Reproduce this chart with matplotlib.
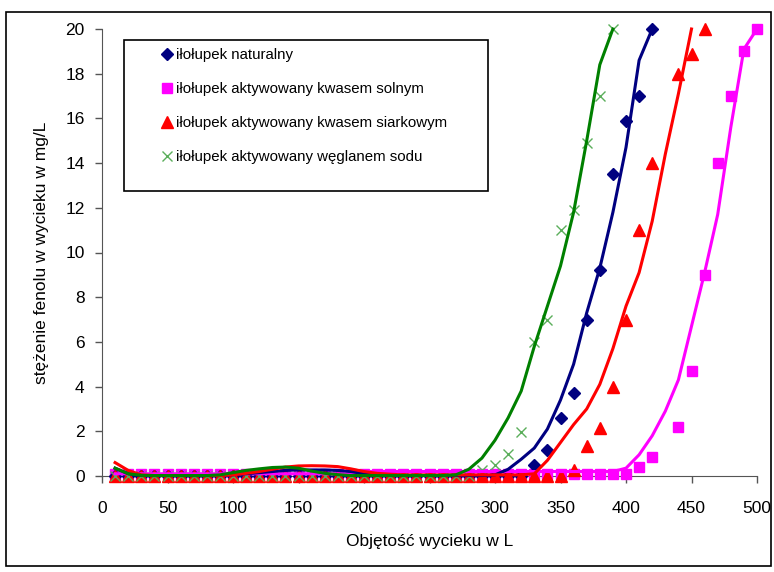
import numpy as np
import matplotlib.pyplot as plt
from matplotlib.patches import Rectangle
from matplotlib.lines import Line2D

plt.rcParams['font.family'] = ['Liberation Sans', 'DejaVu Sans']

nan = np.nan

# measured points (every 10 L)
x_pts = np.arange(10, 510, 10)

natural = [0.0] * 32 + [0.5, 1.15, 2.6, 3.7, 7.0, 9.2, 13.5, 15.9, 17.0, 20.0] + [nan] * 8
hcl = [0.08] * 40 + [0.39, 0.87, nan, 2.18, 4.7, 9.0, 14.0, 17.0, 19.0, 20.0]
h2so4 = [0.0] * 35 + [0.27, 1.35, 2.15, 4.0, 7.0, 11.0, 14.0, nan, 18.0, 18.9, 20.0] + [nan] * 4
na2co3 = [0.0] * 28 + [0.27, 0.5, 1.0, 1.95, 6.0, 7.0, 11.0, 11.9, 14.9, 17.0, 20.0] + [nan] * 11

# fitted curves (same x grid)
fit_natural = [0.35, 0.1, 0.02, 0.02, 0.02, 0.02, 0.02, 0.02, 0.02, 0.05,
               0.1, 0.15, 0.2, 0.25, 0.27, 0.27, 0.27, 0.25, 0.2, 0.1,
               0.05, 0.02, 0.02, 0.02, 0.02, 0.02, 0.02, 0.02, 0.02, 0.05,
               0.3, 0.75, 1.25, 2.1, 3.4, 5.0, 7.3, 9.3, 11.8, 14.7,
               18.6, 20.0] + [nan] * 8
fit_hcl = [0.1] * 19 + [0.2] * 20 + [0.35, 0.95, 1.8, 2.9, 4.3, 6.7, 9.1, 11.7, 15.6, 19.1, 20.0]
fit_h2so4 = [0.6, 0.25, 0.05, 0.02, 0.02, 0.02, 0.02, 0.02, 0.02, 0.05,
             0.12, 0.2, 0.3, 0.4, 0.45, 0.46, 0.45, 0.42, 0.32, 0.2,
             0.12, 0.08, 0.05, 0.05, 0.05, 0.05, 0.05, 0.05, 0.05, 0.05,
             0.05, 0.05, 0.1, 0.7, 1.5, 2.3, 3.0, 4.1, 5.7, 7.6,
             9.1, 11.4, 14.4, 17.1, 20.0] + [nan] * 5
fit_na2co3 = [0.35, 0.1, 0.03, 0.02, 0.02, 0.02, 0.02, 0.02, 0.05, 0.15,
              0.25, 0.32, 0.38, 0.4, 0.35, 0.22, 0.12, 0.06, 0.02, 0.02,
              0.02, 0.02, 0.02, 0.02, 0.02, 0.02, 0.05, 0.3, 0.8, 1.6,
              2.6, 3.8, 5.8, 7.6, 9.4, 11.8, 15.0, 18.4, 20.0] + [nan] * 11

labels = ['iłołupek naturalny',
          'iłołupek aktywowany kwasem solnym',
          'iłołupek aktywowany kwasem siarkowym',
          'iłołupek aktywowany węglanem sodu']

navy = '#000080'
magenta = '#FF00FF'
red = '#FF0000'
green = '#008000'
lgreen = '#5BAE5B'

fig = plt.figure(figsize=(7.74, 5.72), dpi=100)
ax = fig.add_axes([102/774, 1 - 476/572, 655/774, 447/572])

ax.plot(x_pts, hcl, 's', color=magenta, ms=6.5, clip_on=False, zorder=3)
ax.plot(x_pts, natural, 'D', color=navy, ms=6.5, clip_on=False, zorder=3)
ax.plot(x_pts, h2so4, '^', color=red, ms=8, clip_on=False, zorder=3)
ax.plot(x_pts, na2co3, 'x', color=lgreen, ms=7, mew=1, clip_on=False, zorder=3)

ax.plot(x_pts, fit_hcl, '-', color=magenta, lw=2.2, clip_on=False, zorder=4)
ax.plot(x_pts, fit_natural, '-', color=navy, lw=2.2, clip_on=False, zorder=4)
ax.plot(x_pts, fit_h2so4, '-', color=red, lw=2.2, clip_on=False, zorder=4)
ax.plot(x_pts, fit_na2co3, '-', color=green, lw=2.2, clip_on=False, zorder=4)

ax.set_xlim(0, 500)
ax.set_ylim(0, 20)
ax.set_xticks(np.arange(0, 501, 50))
ax.set_yticks(np.arange(0, 21, 2))
ax.spines['top'].set_visible(False)
ax.spines['right'].set_visible(False)
ax.spines['left'].set_color('#555555')
ax.spines['bottom'].set_color('#555555')
ax.tick_params(direction='out', length=5, width=1, color='#555555', labelsize=12.5)
ax.tick_params(axis='x', pad=13)
ax.tick_params(axis='y', pad=7.5)

ax.set_xlabel('Objętość wycieku w L', fontsize=12.5, labelpad=13)
ax.set_ylabel('stężenie fenolu w wycieku w mg/L', fontsize=12.5, labelpad=12)

# legend box
fig.patches.append(Rectangle((124/774, 1 - 191/572), (488 - 124)/774, (191 - 40)/572,
                             transform=fig.transFigure, fill=False, edgecolor='black', lw=1.2))
handles = [Line2D([], [], ls='none', marker='D', color=navy, ms=6.5),
           Line2D([], [], ls='none', marker='s', color=magenta, ms=7),
           Line2D([], [], ls='none', marker='^', color=red, ms=8),
           Line2D([], [], ls='none', marker='x', color=lgreen, ms=7, mew=1)]
fig.legend(handles, labels, loc='upper left', bbox_to_anchor=(162/774, 1 - 48/572),
           frameon=False, fontsize=10.8, handlelength=0.6, handletextpad=0.3,
           labelspacing=1.33, borderpad=0, borderaxespad=0)

# chart border
fig.patches.append(Rectangle((6/774, 1 - 566/572), 765/774, 554/572,
                             transform=fig.transFigure, fill=False, edgecolor='black', lw=1.2))

fig.savefig('out.png', dpi=100)
